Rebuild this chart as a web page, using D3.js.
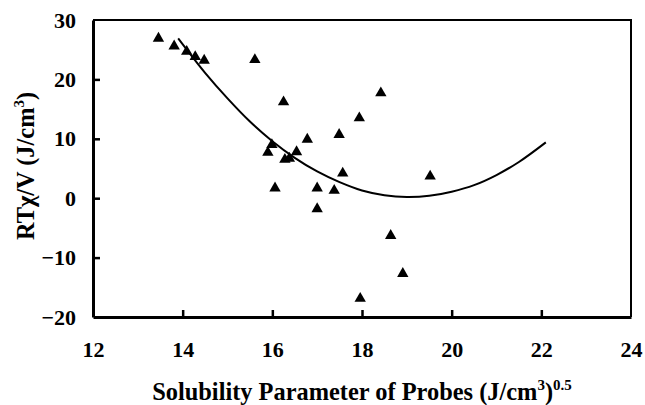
<!DOCTYPE html>
<html>
<head>
<meta charset="utf-8">
<script src="https://cdn.jsdelivr.net/npm/d3@7"></script>
<style>
  body { margin: 0; background: #fff; }
</style>
</head>
<body>
<div id="chart"></div>
<script>
// probe data
var solubility = [13.46, 13.81, 14.09, 14.28, 14.48, 15.61, 16.25, 16.78, 15.99, 15.9,
  16.28, 16.38, 16.54, 16.06, 17.0, 17.0, 18.42, 17.94, 17.49, 17.57,
  19.52, 17.38, 18.64, 18.91, 17.96];
var rtChiV = [26.9, 25.6, 24.7, 23.8, 23.2, 23.3, 16.2, 9.9, 9.0, 7.7,
  6.5, 6.7, 7.8, 1.7, 1.7, -1.8, 17.7, 13.5, 10.7, 4.2,
  3.7, 1.3, -6.3, -12.7, -16.9];

// fitted curve, points
var fitX = [13.9, 14.5, 15, 15.5, 16, 16.5, 17, 17.5, 18, 18.5, 19, 19.5, 20, 20.5, 21, 21.5, 22.1];
var fitY = [26.9, 21.1, 16.8, 12.9, 9.6, 6.8, 4.5, 2.7, 1.3, 0.5, 0.2, 0.4, 1.1, 2.2, 3.9, 6.1, 9.4];

var xTicks = [12, 14, 16, 18, 20, 22, 24];
var yTicks = [-20, -10, 0, 10, 20, 30];

var serif = "'Liberation Serif', 'DejaVu Serif', serif";

var margin = { top: 20, right: 14, bottom: 88, left: 93 },
  width = 645 - margin.left - margin.right,
  height = 405 - margin.top - margin.bottom;

var svg = d3.select("#chart")
  .append("svg")
  .attr("width", 645)
  .attr("height", 405)
  .append("g")
  .attr("transform", "translate(" + margin.left + "," + margin.top + ")");

var x = d3.scaleLinear().domain([12, 24]).range([0, width]);
var y = d3.scaleLinear().domain([-20, 30]).range([height, 0]);

// frame (top and right)
svg.append("path")
  .attr("d", "M0,0H" + width + "V" + height)
  .attr("fill", "none")
  .attr("stroke", "#000")
  .attr("stroke-width", 2);

// x axis, ticks inward
var xAxis = svg.append("g")
  .attr("transform", "translate(0," + height + ")")
  .call(d3.axisBottom(x).tickValues(xTicks).tickSize(-7).tickPadding(24).tickSizeOuter(0));
xAxis.select(".domain").attr("stroke-width", 3);
xAxis.selectAll(".tick line").attr("stroke-width", 2.5)
  .attr("opacity", function (d) { return d === 12 || d === 24 ? 0 : 1; });
xAxis.selectAll("text")
  .attr("font-family", serif).attr("font-weight", "bold").attr("font-size", 22);

// y axis, ticks inward
var yAxis = svg.append("g")
  .call(d3.axisLeft(y).tickValues(yTicks).tickSize(-7).tickPadding(17).tickSizeOuter(0));
yAxis.select(".domain").attr("stroke-width", 3);
yAxis.selectAll(".tick line").attr("stroke-width", 2.5)
  .attr("opacity", function (d) { return d === -20 || d === 30 ? 0 : 1; });
yAxis.selectAll("text")
  .attr("font-family", serif).attr("font-weight", "bold").attr("font-size", 22);

// fitted curve
var fit = fitX.map(function (d, i) { return [d, fitY[i]]; });
svg.append("path")
  .datum(fit)
  .attr("fill", "none")
  .attr("stroke", "#000")
  .attr("stroke-width", 2)
  .attr("d", d3.line()
    .x(function (d) { return x(d[0]); })
    .y(function (d) { return y(d[1]); })
    .curve(d3.curveCatmullRom));

// triangles
var tri = d3.symbol().type(d3.symbolTriangle).size(56);
svg.selectAll(".pt")
  .data(solubility)
  .enter()
  .append("path")
  .attr("class", "pt")
  .attr("d", tri)
  .attr("fill", "#000")
  .attr("transform", function (d, i) { return "translate(" + x(d) + "," + y(rtChiV[i]) + ")"; });

// axis titles
var xl = svg.append("text")
  .attr("x", width / 2)
  .attr("y", height + 83)
  .attr("text-anchor", "middle")
  .attr("font-family", serif)
  .attr("font-weight", "bold")
  .attr("font-size", 24.4);
xl.append("tspan").text("Solubility Parameter of Probes (J/cm");
xl.append("tspan").attr("font-size", 15).attr("dy", -10).text("3");
xl.append("tspan").attr("dy", 10).text(")");
xl.append("tspan").attr("font-size", 15).attr("dy", -10).text("0.5");

var yl = svg.append("text")
  .attr("transform", "translate(-59," + (166 - margin.top) + ") rotate(-90)")
  .attr("text-anchor", "middle")
  .attr("font-family", serif)
  .attr("font-weight", "bold")
  .attr("font-size", 24.4);
yl.append("tspan").text("RT\u03c7/V (J/cm");
yl.append("tspan").attr("font-size", 15).attr("dy", -10).text("3");
yl.append("tspan").attr("dy", 10).text(")");
</script>
</body>
</html>
